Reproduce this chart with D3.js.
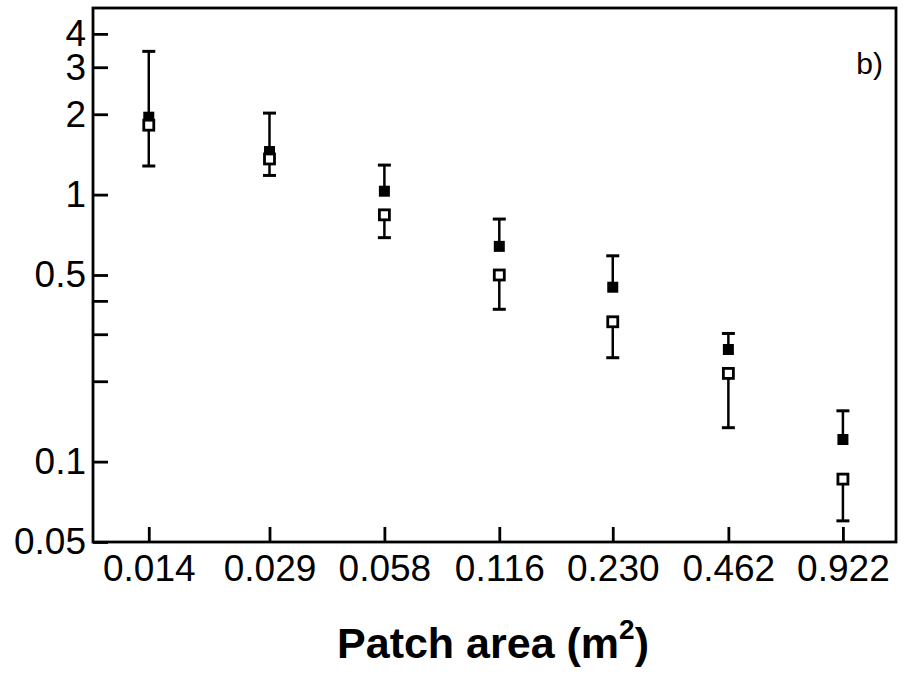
<!DOCTYPE html>
<html>
<head>
<meta charset="utf-8">
<script src="https://cdn.jsdelivr.net/npm/d3@7"></script>
<style>
  html, body { margin: 0; padding: 0; background: #fff; }
  svg { display: block; font-family: "Liberation Sans", Arial, sans-serif; }
</style>
</head>
<body>
<svg id="viz"></svg>
<script>
  const areaLabels = ['0.014', '0.029', '0.058', '0.116', '0.230', '0.462', '0.922'];
  const filledMean = [1.95, 1.45, 1.03, 0.64, 0.45, 0.263, 0.121];
  const filledUpper = [3.44, 2.02, 1.29, 0.81, 0.59, 0.302, 0.155];
  const openMean = [1.82, 1.36, 0.84, 0.50, 0.334, 0.214, 0.086];
  const openLower = [1.28, 1.18, 0.69, 0.372, 0.245, 0.134, 0.060];
  const yTickValues = [0.05, 0.1, 0.2, 0.3, 0.4, 0.5, 1, 2, 3, 4];
  const yTickLabels = ['0.05', '0.1', '', '', '', '0.5', '1', '2', '3', '4'];

  const W = 903, H = 677;
  const plot = { left: 93, right: 896, top: 8, bottom: 542 };

  const svg = d3.select('#viz').attr('width', W).attr('height', H);

  const x = d3.scaleLog().domain([0.01, 1.27]).range([plot.left, plot.right]);
  const y = d3.scaleLog().domain([0.05, 5]).range([plot.bottom, plot.top]);

  const pts = areaLabels.map((lab, i) => ({
    area: +lab,
    fm: filledMean[i], fu: filledUpper[i],
    om: openMean[i], ol: openLower[i]
  }));

  // axes, ticks pointing inward
  const xAxis = svg.append('g')
    .attr('transform', `translate(0,${plot.bottom})`)
    .call(d3.axisBottom(x)
      .tickValues(areaLabels.map(Number))
      .tickFormat((d, i) => areaLabels[i])
      .tickSizeInner(-15).tickSizeOuter(0).tickPadding(13));

  const yAxis = svg.append('g')
    .attr('transform', `translate(${plot.left},0)`)
    .call(d3.axisLeft(y)
      .tickValues(yTickValues)
      .tickFormat((d, i) => yTickLabels[i])
      .tickSizeInner(-15).tickSizeOuter(0).tickPadding(7));

  [xAxis, yAxis].forEach(g => {
    g.select('.domain').remove();
    g.selectAll('.tick line').attr('stroke', '#000').attr('stroke-width', 2.8);
    g.selectAll('.tick text')
      .attr('fill', '#000')
      .style('font-size', '37px')
      .style('font-family', '"Liberation Sans", Arial, sans-serif');
  });

  // frame
  svg.append('rect')
    .attr('x', plot.left).attr('y', plot.top)
    .attr('width', plot.right - plot.left).attr('height', plot.bottom - plot.top)
    .attr('fill', 'none').attr('stroke', '#000').attr('stroke-width', 2.8);

  const capW = 13;

  // upper error bars of the filled series
  const up = svg.append('g').attr('stroke', '#000');
  up.selectAll('line.v').data(pts).join('line').attr('class', 'v')
    .attr('x1', d => x(d.area)).attr('x2', d => x(d.area))
    .attr('y1', d => y(d.fm)).attr('y2', d => y(d.fu))
    .attr('stroke-width', 2.5);
  up.selectAll('line.c').data(pts).join('line').attr('class', 'c')
    .attr('x1', d => x(d.area) - capW / 2).attr('x2', d => x(d.area) + capW / 2)
    .attr('y1', d => y(d.fu)).attr('y2', d => y(d.fu))
    .attr('stroke-width', 3);

  // lower error bars of the open series
  const down = svg.append('g').attr('stroke', '#000');
  down.selectAll('line.v').data(pts).join('line').attr('class', 'v')
    .attr('x1', d => x(d.area)).attr('x2', d => x(d.area))
    .attr('y1', d => y(d.om)).attr('y2', d => y(d.ol))
    .attr('stroke-width', 2.5);
  down.selectAll('line.c').data(pts).join('line').attr('class', 'c')
    .attr('x1', d => x(d.area) - capW / 2).attr('x2', d => x(d.area) + capW / 2)
    .attr('y1', d => y(d.ol)).attr('y2', d => y(d.ol))
    .attr('stroke-width', 3);

  // filled squares
  const fs = 11;
  svg.append('g').selectAll('rect').data(pts).join('rect')
    .attr('x', d => x(d.area) - fs / 2).attr('y', d => y(d.fm) - fs / 2)
    .attr('width', fs).attr('height', fs).attr('fill', '#000');

  // open squares
  const os = 10;
  svg.append('g').selectAll('rect').data(pts).join('rect')
    .attr('x', d => x(d.area) - os / 2).attr('y', d => y(d.om) - os / 2)
    .attr('width', os).attr('height', os)
    .attr('fill', '#fff').attr('stroke', '#000').attr('stroke-width', 2.8);

  // panel label
  svg.append('text')
    .attr('x', 883).attr('y', 74)
    .attr('text-anchor', 'end')
    .style('font-size', '30px')
    .text('b)');

  // x title
  const title = svg.append('text')
    .attr('x', 493).attr('y', 658)
    .attr('text-anchor', 'middle')
    .style('font-size', '43px')
    .style('font-weight', 'bold');
  title.append('tspan').text('Patch area (m');
  title.append('tspan').attr('dy', -19).style('font-size', '28px').text('2');
  title.append('tspan').attr('dy', 19).text(')');
</script>
</body>
</html>
